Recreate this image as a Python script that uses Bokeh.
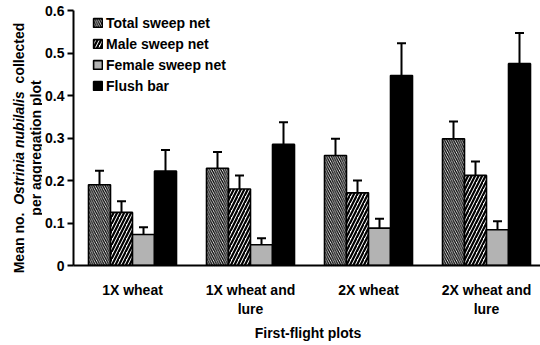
import math
from bokeh.plotting import figure
from bokeh.layouts import row
from bokeh.models import (ColumnDataSource, Range1d, FixedTicker, Whisker, TeeHead,
                          Legend, LegendItem)
from bokeh.core.properties import value
from bokeh.embed import file_html
from bokeh.resources import INLINE

# ---- data ----
categories = ["1X wheat", "1X wheat and\nlure", "2X wheat", "2X wheat and\nlure"]
series_names = ["Total sweep net", "Male sweep net", "Female sweep net", "Flush bar"]
total = [0.190, 0.229, 0.259, 0.298]
total_se = [0.033, 0.038, 0.039, 0.041]
male = [0.125, 0.180, 0.171, 0.212]
male_se = [0.026, 0.032, 0.029, 0.033]
female = [0.073, 0.049, 0.088, 0.084]
female_se = [0.017, 0.015, 0.022, 0.020]
flush = [0.222, 0.285, 0.447, 0.475]
flush_se = [0.050, 0.052, 0.076, 0.072]
y_ticks = [0, 0.1, 0.2, 0.3, 0.4, 0.5, 0.6]
y_tick_labels = ["0", "0.1", "0.2", "0.3", "0.4", "0.5", "0.6"]
x_title = "First-flight plots"
y_title_1 = ["Mean no.", "Ostrinia nubilalis", "collected"]
y_title_1_styles = ["bold", "bold italic", "bold"]
y_title_2 = "per aggregation plot"

FONT = "Liberation Sans"
PAGE_H = 345
LEFT_W = 42
BL, BT, BB = 29, 10, 80
FW, FH = 469, 255
GROUP_PX = 118.0
XMAX = FW / GROUP_PX
YMAX = 0.6

# ---- main chart ----
p = figure(frame_width=FW, frame_height=FH, output_backend="svg", toolbar_location=None,
           x_range=Range1d(0, XMAX), y_range=Range1d(0, YMAX),
           min_border_left=BL, min_border_right=0, min_border_top=BT,
           min_border_bottom=BB, outline_line_color=None)
p.xgrid.visible = False
p.ygrid.visible = False

bw = 22 / GROUP_PX
offsets = [-1.5 * bw, -0.5 * bw, 0.5 * bw, 1.5 * bw]
styles = [
    dict(fill_color="white", hatch_pattern="left_diagonal_line", hatch_scale=4.5,
         hatch_weight=1.3, hatch_color="black"),
    dict(fill_color="white", hatch_pattern="right_diagonal_line", hatch_scale=7.0,
         hatch_weight=2.2, hatch_color="black"),
    dict(fill_color="#b3b3b3"),
    dict(fill_color="black"),
]
vals = [total, male, female, flush]
ses = [total_se, male_se, female_se, flush_se]

renderers = []
for i in range(4):
    xs = [k + 0.5 + offsets[i] for k in range(len(categories))]
    src = ColumnDataSource(dict(x=xs, top=vals[i],
                                upper=[v + e for v, e in zip(vals[i], ses[i])],
                                lower=[v - e for v, e in zip(vals[i], ses[i])]))
    r = p.vbar(x="x", top="top", width=bw, bottom=0, source=src,
               line_color="black", line_width=1.6, **styles[i])
    renderers.append(r)
    wk = Whisker(base="x", upper="upper", lower="lower", source=src,
                 line_color="black", line_width=2,
                 upper_head=TeeHead(size=9, line_width=2, line_color="black"),
                 lower_head=TeeHead(size=9, line_width=2, line_color="black"))
    p.add_layout(wk)

legend = Legend(items=[LegendItem(label=series_names[i], renderers=[renderers[i]])
                       for i in range(4)],
                location=(19, 171), orientation="vertical",
                background_fill_alpha=0, border_line_color=None,
                padding=0, margin=0, spacing=4,
                glyph_width=11, glyph_height=11, label_height=17,
                label_standoff=3,
                label_text_font=FONT, label_text_font_style="bold",
                label_text_font_size="14px", label_text_color="black")
p.add_layout(legend)

p.yaxis.ticker = FixedTicker(ticks=y_ticks)
p.yaxis.major_label_overrides = {t: s for t, s in zip(y_ticks, y_tick_labels)}
p.yaxis.major_tick_in = 0
p.yaxis.major_tick_out = 6
p.yaxis.major_tick_line_width = 2
p.yaxis.minor_tick_line_color = None
p.yaxis.axis_line_width = 2
p.yaxis.major_label_text_font = FONT
p.yaxis.major_label_text_font_style = "bold"
p.yaxis.major_label_text_font_size = "14px"
p.yaxis.major_label_text_color = "black"
p.yaxis.major_label_standoff = 3

p.xaxis.ticker = FixedTicker(ticks=[k + 0.5 for k in range(len(categories))])
p.xaxis.major_label_overrides = {k + 0.5: c for k, c in enumerate(categories)}
p.xaxis.major_tick_line_color = None
p.xaxis.minor_tick_line_color = None
p.xaxis.axis_line_width = 2
p.xaxis.major_label_text_font = FONT
p.xaxis.major_label_text_font_style = "bold"
p.xaxis.major_label_text_font_size = "14px"
p.xaxis.major_label_text_color = "black"
p.xaxis.major_label_standoff = 10
p.xaxis.axis_label = x_title
p.xaxis.axis_label_text_font = FONT
p.xaxis.axis_label_text_font_style = "bold"
p.xaxis.axis_label_text_font_size = "14px"
p.xaxis.axis_label_text_color = "black"
p.xaxis.axis_label_standoff = 5

# ---- left strip holding the rotated two-line y title ----
t = figure(frame_width=LEFT_W, frame_height=PAGE_H, output_backend="svg",
           toolbar_location=None,
           x_range=Range1d(0, LEFT_W), y_range=Range1d(0, PAGE_H),
           x_axis_type=None, y_axis_type=None, outline_line_color=None,
           min_border_left=0, min_border_right=0, min_border_top=0, min_border_bottom=0)
t.xgrid.visible = False
t.ygrid.visible = False

center_y = PAGE_H - (BT + FH / 2)     # vertical centre of the chart frame
# advance (px) from the start of each piece to the start of the next, gaps included
piece_adv = [68.5, 121.4, 60.7]
pos = center_y - sum(piece_adv) / 2
for txt, w, st in zip(y_title_1, piece_adv, y_title_1_styles):
    t.text(x=[18], y=[pos], text=[txt], angle=math.pi / 2,
           text_align="left", text_baseline="alphabetic",
           text_font=value(FONT), text_font_style=st, text_font_size="14px",
           text_color="black")
    pos += w
t.text(x=[35], y=[center_y], text=[y_title_2], angle=math.pi / 2,
       text_align="center", text_baseline="alphabetic",
       text_font=value(FONT), text_font_style="bold", text_font_size="14px",
       text_color="black")

layout = row(t, p, spacing=0)
open("out.html", "w").write(file_html(layout, INLINE))
